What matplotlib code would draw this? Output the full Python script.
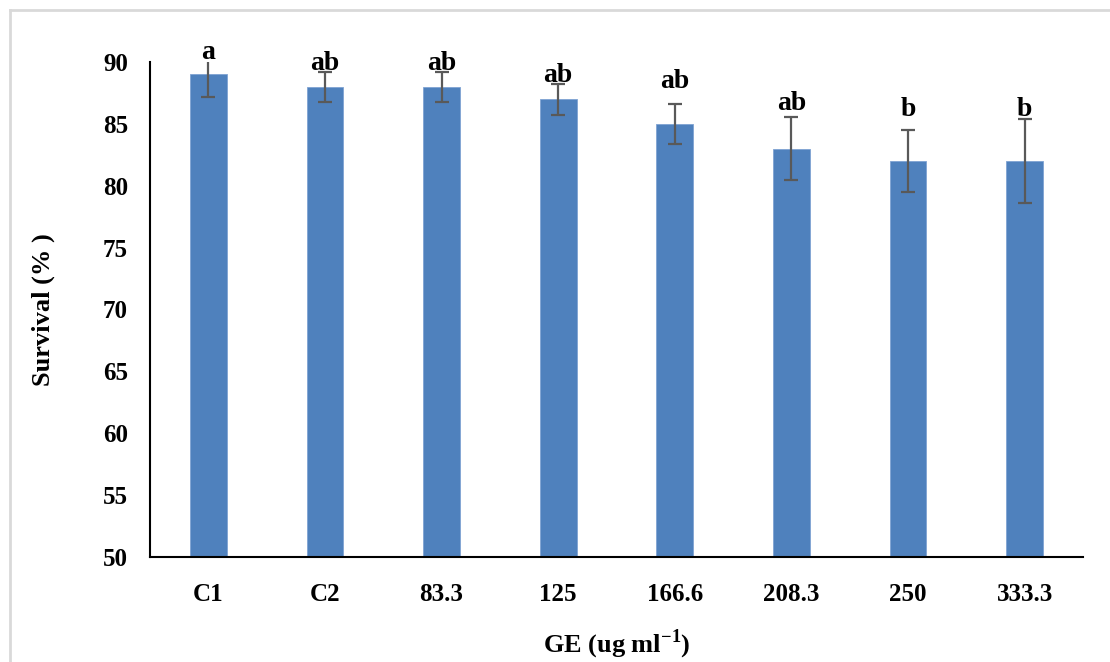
import matplotlib
matplotlib.use("Agg")
import matplotlib.pyplot as plt
from matplotlib.lines import Line2D

plt.rcParams["font.family"] = ["Liberation Serif", "DejaVu Serif"]
plt.rcParams["font.weight"] = "bold"
plt.rcParams["mathtext.fontset"] = "custom"
plt.rcParams["mathtext.rm"] = "Liberation Serif:bold"
plt.rcParams["mathtext.bf"] = "Liberation Serif:bold"

# Survival by GE concentration
categories = ["C1", "C2", "83.3", "125", "166.6", "208.3", "250", "333.3"]
survival = [89, 88, 88, 87, 85, 83, 82, 82]
errors = [1.8, 1.2, 1.2, 1.25, 1.6, 2.55, 2.5, 3.4]
letters = ["a", "ab", "ab", "ab", "ab", "ab", "b", "b"]

# vertical placement (baseline) of the significance letters
letter_y = [90.25, 89.35, 89.35, 88.4, 87.9, 86.1, 85.6, 85.6]

fig = plt.figure(figsize=(11.1, 6.62), dpi=100)
ax = fig.add_axes([150 / 1110, 105 / 662, 933 / 1110, 495 / 662])

x = list(range(len(categories)))
ax.bar(x, survival, width=0.315, color="#4F81BD", edgecolor="#7fa3d3",
       linewidth=0.6, zorder=2)
ax.errorbar(x, survival, yerr=errors, fmt="none", ecolor="#595959",
            elinewidth=1.6, capsize=5, capthick=1.6, zorder=3)

for xi, lab, ly in zip(x, letters, letter_y):
    ax.text(xi, ly, lab, ha="center", va="baseline", fontsize=20,
            fontweight="bold", clip_on=False)

ax.set_xlim(-0.5, len(categories) - 0.5)
ax.set_ylim(50, 90)
ax.set_yticks(range(50, 91, 5))
ax.set_xticks(x)
ax.set_xticklabels(categories)
ax.tick_params(axis="both", length=0, labelsize=18)
ax.tick_params(axis="y", pad=16)
ax.tick_params(axis="x", pad=19)
for t in ax.get_xticklabels() + ax.get_yticklabels():
    t.set_fontweight("bold")

for side in ("top", "right"):
    ax.spines[side].set_visible(False)
for side in ("left", "bottom"):
    ax.spines[side].set_color("black")
    ax.spines[side].set_linewidth(1.5)

ax.set_ylabel("Survival (% )", fontsize=19, fontweight="bold", labelpad=34)
ax.set_xlabel("GE (ug ml$^{-1}$)", fontsize=19, fontweight="bold", labelpad=15)

# chart-area frame
frame_kw = dict(color="#d9d9d9", linewidth=2, transform=fig.transFigure)
fig.add_artist(Line2D([10 / 1110, 1.0], [1 - 10 / 662, 1 - 10 / 662], **frame_kw))
fig.add_artist(Line2D([10 / 1110, 10 / 1110], [0.0, 1 - 10 / 662], **frame_kw))

fig.savefig("out.png", dpi=100)
